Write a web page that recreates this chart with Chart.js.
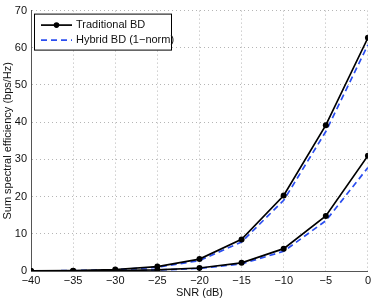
<!DOCTYPE html>
<html>
<head>
<meta charset="utf-8">
<script src="https://cdn.jsdelivr.net/npm/chart.js@4"></script>
<style>
  html, body { margin: 0; padding: 0; background: #fff; }
  #wrap { width: 374px; height: 300px; }
</style>
</head>
<body>
<div id="wrap"><canvas id="snrChart" width="374" height="300"></canvas></div>
<script>
// SNR points (dB)
const snr = [-40, -35, -30, -25, -20, -15, -10, -5, 0];

// upper pair of curves
const tradHigh = [0.03, 0.1, 0.4, 1.2, 3.2, 8.5, 20.3, 39.2, 62.7];
const hybridHigh = [0.03, 0.1, 0.35, 1.0, 2.8, 7.8, 19.0, 37.5, 60.8];

// lower pair of curves
const tradLow = [0.01, 0.03, 0.1, 0.3, 0.8, 2.2, 6.0, 14.8, 31.0];
const hybridLow = [0.01, 0.03, 0.09, 0.25, 0.7, 1.9, 5.3, 13.5, 27.8];

const xTicks = [-40, -35, -30, -25, -20, -15, -10, -5, 0];
const yTicks = [0, 10, 20, 30, 40, 50, 60, 70];

const legendLabels = ['Traditional BD', 'Hybrid BD (1\u2212norm)'];

const FONT = 'Liberation Sans, Arial, Helvetica, sans-serif';
const FSIZE = 11;
const BLUE = '#2b4ef0';

function toPoints(vals) {
    return snr.map((x, i) => ({ x: x, y: vals[i] }));
}

function fmt(v) {
    return v < 0 ? '\u2212' + Math.abs(v) : String(v);
}

const blackStyle = {
    borderColor: '#000', backgroundColor: '#000', borderWidth: 1.7,
    pointRadius: 3, pointHoverRadius: 3, pointBackgroundColor: '#000', pointBorderWidth: 0,
    tension: 0, fill: false
};
const blueStyle = {
    borderColor: BLUE, backgroundColor: BLUE, borderWidth: 1.7, borderDash: [6, 4],
    pointRadius: 0, tension: 0, fill: false
};

// legend drawn inside the plot, top-left like the matlab figure
const boxLegend = {
    id: 'boxLegend',
    afterDraw(chart) {
        const ctx = chart.ctx;
        const a = chart.chartArea;
        const x0 = a.left + 3, y0 = a.top + 3, w = 137, h = 36;
        ctx.save();
        ctx.fillStyle = '#fff';
        ctx.fillRect(x0, y0, w, h);
        ctx.strokeStyle = '#000';
        ctx.lineWidth = 1;
        ctx.strokeRect(x0 + 0.5, y0 + 0.5, w, h);

        ctx.font = FSIZE + 'px ' + FONT;
        ctx.textBaseline = 'middle';

        // entry 1
        let y = y0 + 11.5;
        ctx.strokeStyle = '#000';
        ctx.lineWidth = 1.7;
        ctx.beginPath(); ctx.moveTo(x0 + 7, y); ctx.lineTo(x0 + 38, y); ctx.stroke();
        ctx.fillStyle = '#000';
        ctx.beginPath(); ctx.arc(x0 + 22.5, y, 2.8, 0, Math.PI * 2); ctx.fill();
        ctx.fillStyle = '#111';
        ctx.fillText(legendLabels[0], x0 + 42, y);

        // entry 2
        y = y0 + 26.5;
        ctx.strokeStyle = BLUE;
        ctx.setLineDash([6, 4]);
        ctx.beginPath(); ctx.moveTo(x0 + 7, y); ctx.lineTo(x0 + 38, y); ctx.stroke();
        ctx.setLineDash([]);
        ctx.fillText(legendLabels[1], x0 + 42, y);
        ctx.restore();
    }
};

new Chart(document.getElementById('snrChart'), {
    type: 'line',
    data: {
        datasets: [
            Object.assign({ label: legendLabels[0], data: toPoints(tradHigh) }, blackStyle),
            Object.assign({ label: legendLabels[0] + ' low', data: toPoints(tradLow) }, blackStyle),
            Object.assign({ label: legendLabels[1], data: toPoints(hybridHigh) }, blueStyle),
            Object.assign({ label: legendLabels[1] + ' low', data: toPoints(hybridLow) }, blueStyle)
        ]
    },
    options: {
        responsive: false,
        animation: false,
        devicePixelRatio: 1,
        layout: { padding: { top: 5, right: 5, left: 0, bottom: 0 } },
        plugins: {
            legend: { display: false },
            tooltip: { enabled: false }
        },
        scales: {
            x: {
                type: 'linear',
                min: -40, max: 0,
                afterFit: s => { s.height = 29; },
                afterBuildTicks: s => { s.ticks = xTicks.map(v => ({ value: v })); },
                grid: { color: '#b5b5b5', drawTicks: false, lineWidth: 1 },
                border: { display: true, color: '#555', width: 1, dash: [1, 3] },
                ticks: {
                    color: '#111', padding: 3, maxRotation: 0,
                    font: { family: FONT, size: FSIZE },
                    callback: v => fmt(v)
                },
                title: {
                    display: true, text: 'SNR (dB)', color: '#111',
                    font: { family: FONT, size: FSIZE },
                    padding: { top: 0, bottom: 0 }
                }
            },
            y: {
                type: 'linear',
                min: 0, max: 70,
                afterFit: s => { s.width = 31; },
                afterBuildTicks: s => { s.ticks = yTicks.map(v => ({ value: v })); },
                grid: { color: '#b5b5b5', drawTicks: false, lineWidth: 1 },
                border: { display: true, color: '#555', width: 1, dash: [1, 3] },
                ticks: {
                    color: '#111', padding: 4,
                    font: { family: FONT, size: FSIZE },
                    callback: v => fmt(v)
                },
                title: {
                    display: true, text: 'Sum spectral efficiency (bps/Hz)', color: '#111',
                    font: { family: FONT, size: FSIZE },
                    padding: { top: 1, bottom: 0 }
                }
            }
        }
    },
    plugins: [boxLegend]
});
</script>
</body>
</html>
